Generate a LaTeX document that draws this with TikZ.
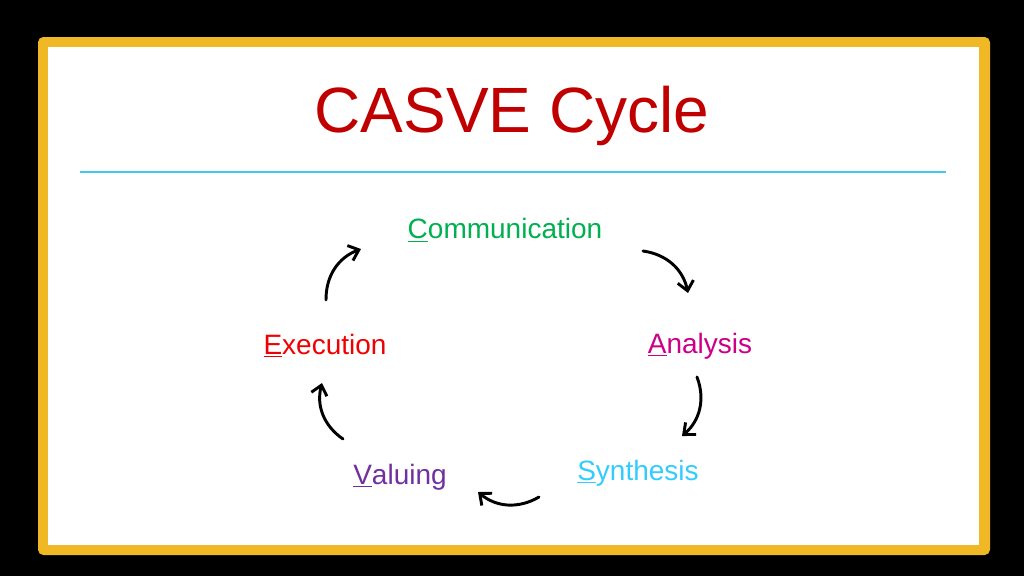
\documentclass[tikz,border=0pt]{standalone}
\usepackage{fontspec}
\setmainfont{Liberation Sans}
\usetikzlibrary{arrows.meta}
\definecolor{frameyellow}{RGB}{240,184,36}
\definecolor{rulecyan}{RGB}{64,200,240}
\definecolor{titlered}{RGB}{192,0,0}
\definecolor{comgreen}{RGB}{0,176,80}
\definecolor{anamag}{RGB}{204,0,136}
\definecolor{synblue}{RGB}{51,204,255}
\definecolor{valpurple}{RGB}{112,48,160}
\definecolor{exered}{RGB}{240,0,0}
\newcommand{\firstul}[2]{\underline{#1}#2}
\tikzset{
  stage/.style={font=\fontsize{21}{24}\selectfont, inner sep=0pt},
  turn/.style={line width=2.2pt, line cap=round, -{Straight Barb[length=7pt,width=12pt,line width=2.2pt]}}
}
\begin{document}
\begin{tikzpicture}[x=0.75pt,y=-0.75pt]
  % canvas
  \fill[black] (0,0) rectangle (1024,576);
  \fill[frameyellow, rounded corners=4pt] (38,37) rectangle (990,555);
  \fill[white] (48,47) rectangle (979,545);
  % title
  \node[font=\fontsize{48}{54}\selectfont, text=titlered] (title) at (512,116) {CASVE Cycle};
  \draw[rulecyan, line width=1.5pt] (80,172) -- (946,172);
  % stages
  \node[stage, text=comgreen] (com) at (505,230) {\firstul{C}{ommunication}};
  \node[stage, text=anamag] (ana) at (700,346) {\firstul{A}{nalysis}};
  \node[stage, text=synblue] (syn) at (638,473) {\firstul{S}{ynthesis}};
  \node[stage, text=valpurple] (val) at (400,477) {\firstul{V}{aluing}};
  \node[stage, text=exered] (exe) at (325,346) {\firstul{E}{xecution}};
  % arrow ends
  \coordinate (c1) at (643,251); \coordinate (c2) at (688,293);
  \coordinate (a1) at (697,377); \coordinate (a2) at (682,436);
  \coordinate (s1) at (539,497); \coordinate (s2) at (478,492);
  \coordinate (v1) at (343,439); \coordinate (v2) at (322,383);
  \coordinate (e1) at (326,300); \coordinate (e2) at (361,249);
  \draw[turn] (c1) to[bend left=35] (c2);
  \draw[turn] (a1) to[bend left=35] (a2);
  \draw[turn] (s1) to[bend left=35] (s2);
  \draw[turn] (v1) to[bend left=35] (v2);
  \draw[turn] (e1) to[bend left=35] (e2);
\end{tikzpicture}
\end{document}
